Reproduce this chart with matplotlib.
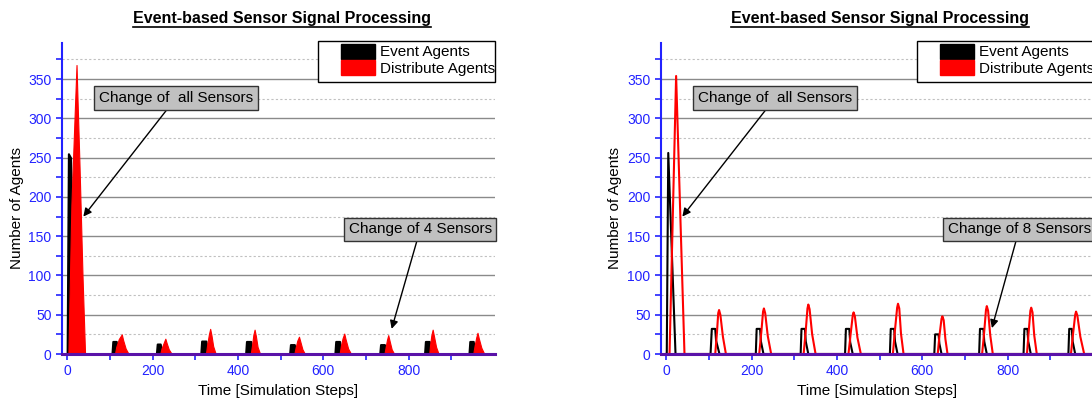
import matplotlib
matplotlib.use("Agg")
import matplotlib.pyplot as plt
from matplotlib.patches import Patch, Rectangle
from matplotlib.lines import Line2D

plt.rcParams['font.family'] = ['Liberation Sans', 'DejaVu Sans']

# ---------------- text ----------------
title_text = "Event-based Sensor Signal Processing"
x_label = "Time [Simulation Steps]"
y_label = "Number of Agents"
legend_labels = ["Event Agents", "Distribute Agents"]
note_all = "Change of  all Sensors"
note_left = "Change of 4 Sensors"
note_right = "Change of 8 Sensors"
x_ticks = [0, 200, 400, 600, 800]
y_ticks = [0, 50, 100, 150, 200, 250, 300, 350]

# ---------------- left panel (4 sensors), filled areas ----------------
ev4_steps = [0, 3, 8, 10, 15,
             105, 107, 115, 119,
             209, 211, 218, 222,
             313, 315, 325, 329,
             418, 420, 430, 434,
             521, 523, 532, 536,
             627, 629, 638, 642,
             732, 734, 743, 747,
             837, 839, 848, 852,
             941, 943, 951, 955, 1000]
ev4_agents = [0, 255, 250, 200, 0,
              0, 16, 16, 0,
              0, 12.7, 12.7, 0,
              0, 16.5, 16.5, 0,
              0, 16, 16, 0,
              0, 12, 12, 0,
              0, 16, 16, 0,
              0, 12, 12, 0,
              0, 16, 16, 0,
              0, 16, 16, 0, 0]

dist4_steps = [3, 10, 18, 22, 24, 29, 36, 42,
               112, 115, 121, 128, 131, 137, 144,
               218, 221, 226, 230, 233, 238, 245,
               325, 328, 332, 335, 338, 342, 348,
               430, 433, 436, 439, 442, 446, 452,
               532, 535, 539, 543, 546, 551, 557,
               638, 641, 645, 649, 652, 658, 665,
               743, 746, 749, 752, 755, 760, 766,
               848, 850, 853, 856, 859, 864, 870,
               951, 954, 958, 961, 964, 970, 977, 1000]
dist4_agents = [0, 190, 310, 368, 330, 240, 100, 0,
                0, 9, 19, 25, 18, 7, 0,
                0, 7, 14, 19.5, 14, 6, 0,
                0, 12, 25, 32, 24, 10, 0,
                0, 11, 24, 31, 23, 9, 0,
                0, 8, 17, 22, 16, 6, 0,
                0, 10, 20, 26, 19, 7, 0,
                0, 9, 18, 24, 17, 6, 0,
                0, 12, 24, 31, 23, 9, 0,
                0, 10, 21, 27, 20, 8, 0, 0]

# ---------------- right panel (8 sensors), lines ----------------
ev8_steps = [0, 1.5, 5, 12, 22,
             104, 107, 115, 117, 125,
             210, 212, 220, 222, 228,
             315, 317, 325, 327, 333,
             419, 421, 429, 431, 437,
             524, 526, 534, 536, 542,
             628, 630, 638, 640, 645,
             733, 735, 743, 745, 751,
             837, 839, 846, 848, 854,
             942, 944, 950, 952, 958, 1000]
ev8_agents = [0, 0, 256, 150, 0,
              0, 32, 32, 17, 0,
              0, 32, 32, 16, 0,
              0, 32, 32, 16, 0,
              0, 32, 32, 15, 0,
              0, 32, 32, 16, 0,
              0, 25, 25, 13, 0,
              0, 32, 32, 16, 0,
              0, 32, 32, 16, 0,
              0, 32, 32, 16, 0, 0]

dist8_steps = [0, 8, 23.4, 43,
               115, 119, 122, 124, 127, 133, 140,
               218, 223, 227, 229, 232, 238, 246,
               322, 327, 331, 333, 336, 342, 350,
               427, 432, 437, 439, 442, 448, 456,
               531, 536, 541, 543, 546, 550, 556,
               636, 640, 645, 647, 650, 654, 659,
               740, 745, 749, 751, 754, 759, 765,
               845, 849, 853, 855, 858, 862, 868,
               948, 953, 958, 960, 963, 970, 979, 1000]
dist8_agents = [0, 0, 354, 0,
                0, 27, 52, 56, 50, 22, 0,
                0, 28, 54, 58, 52, 23, 0,
                0, 30, 58, 63, 57, 25, 0,
                0, 25, 49, 53, 48, 21, 0,
                0, 31, 59, 64, 58, 26, 0,
                0, 23, 45, 48, 43, 19, 0,
                0, 29, 56, 61, 55, 24, 0,
                0, 28, 55, 59, 53, 24, 0,
                0, 26, 50, 54, 49, 22, 0, 0]

# annotation anchors (data coords): text centre, arrow tip
all_text_xy = (255, 326)
all_tip_xy = (38, 175)
left_text_xy = (827, 159)
left_tip_xy = (760, 32)
right_text_xy = (827, 159)
right_tip_xy = (763, 33)

BLUE = '#2222ff'
PURPLE = '#5a12a8'
W, H = 1092, 403
fig = plt.figure(figsize=(W / 100, H / 100), dpi=100)

ax_l = fig.add_axes([62 / W, 49 / H, 433 / W, 311 / H])
ax_r = fig.add_axes([661 / W, 49 / H, 433 / W, 311 / H])


def style(ax):
    ax.set_xlim(-12, 1002)
    ax.set_ylim(0, 396)
    ax.set_xticks(x_ticks)
    ax.set_xticks([100, 300, 500, 700, 900], minor=True)
    ax.set_yticks(y_ticks)
    ax.set_yticks([25, 75, 125, 175, 225, 275, 325, 375], minor=True)
    for s in ['top', 'right']:
        ax.spines[s].set_visible(False)
    ax.spines['left'].set_color(BLUE)
    ax.spines['left'].set_linewidth(1.5)
    ax.spines['bottom'].set_color(PURPLE)
    ax.spines['bottom'].set_linewidth(2.2)
    ax.spines['bottom'].set_zorder(6)
    ax.tick_params(axis='both', which='both', colors=BLUE, direction='out',
                   length=4, width=1.2, labelsize=10, labelcolor=BLUE)
    ax.grid(axis='y', which='major', color='#8a8a8a', lw=1.0, ls='-', zorder=0)
    ax.grid(axis='y', which='minor', color='#c0c0c0', lw=0.8, ls=(0, (2, 2)), zorder=0)
    ax.set_axisbelow(True)


style(ax_l)
style(ax_r)

# left: filled areas
ax_l.fill_between(ev4_steps, 0, ev4_agents, color='black', lw=1.5, ec='black', zorder=2)
ax_l.fill_between(dist4_steps, 0, dist4_agents, color='red', lw=0.8, ec='red', zorder=3)

# right: lines
ax_r.plot(ev8_steps, ev8_agents, color='black', lw=1.5, zorder=3)
ax_r.plot(dist8_steps, dist8_agents, color='red', lw=1.5, zorder=4)

bbox = dict(boxstyle='square,pad=0.3', fc='#c0c0c0', ec='#333333', lw=1)
arrow = dict(arrowstyle='-|>', color='black', lw=1, mutation_scale=12,
             shrinkA=0, shrinkB=0)
for ax, txt, txy, tip in [(ax_l, note_all, all_text_xy, all_tip_xy),
                          (ax_l, note_left, left_text_xy, left_tip_xy),
                          (ax_r, note_all, all_text_xy, all_tip_xy),
                          (ax_r, note_right, right_text_xy, right_tip_xy)]:
    ax.annotate(txt, xy=tip, xytext=txy, ha='center', va='center', fontsize=11,
                bbox=bbox, arrowprops=arrow, zorder=8, annotation_clip=False)

# legends: separate frame + frameless legend
handles = [Patch(fc='black', ec='black'), Patch(fc='red', ec='red')]
for box_left, patch_left in [(318, 341), (917, 940)]:
    fig.add_artist(Rectangle((box_left / W, 1 - 82 / H), 177 / W, 41 / H,
                             transform=fig.transFigure, fc='white',
                             ec='black', lw=1, zorder=9))
    leg = fig.legend(handles, legend_labels, loc='upper left',
                     bbox_to_anchor=(patch_left / W, 1 - 43.5 / H),
                     bbox_transform=fig.transFigure, fontsize=11,
                     frameon=False, handlelength=2.2, handleheight=1.15,
                     handletextpad=0.35, labelspacing=0.05, borderpad=0,
                     borderaxespad=0)
    leg.set_zorder(10)

# titles (bold + underline), axis labels
fig.canvas.draw()
renderer = fig.canvas.get_renderer()
for cx in [282, 880]:
    t = fig.text(cx / W, 1 - 18 / H, title_text, ha='center', va='center',
                 fontsize=11.5, fontweight='bold')
    bb = t.get_window_extent(renderer)
    yline = (bb.y0 - 1) / H
    fig.add_artist(Line2D([bb.x0 / W, bb.x1 / W], [yline, yline],
                          transform=fig.transFigure, color='black', lw=1.2))

for cx in [278, 877]:
    fig.text(cx / W, 1 - 391 / H, x_label, ha='center', va='center', fontsize=11)
for cx in [17, 615]:
    fig.text(cx / W, 1 - 208 / H, y_label, ha='center', va='center',
             rotation=90, fontsize=11)

fig.savefig('out.png', dpi=100)
